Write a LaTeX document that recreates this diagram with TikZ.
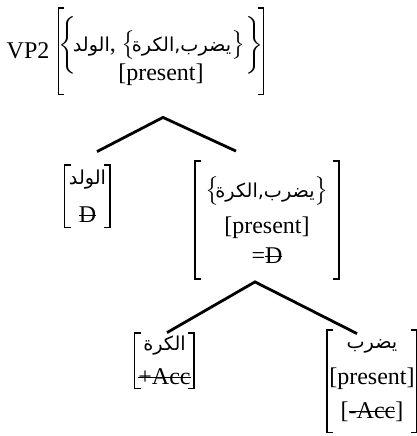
\documentclass[tikz,border=0pt]{standalone}
\usepackage{amsmath}
\usepackage{fontspec}
\setmainfont{Liberation Serif}
\newfontfamily\arabicfont[Script=Arabic,Scale=0.8]{DejaVu Sans}
\TeXXeTstate=1
\newcommand{\arb}[1]{{\arabicfont\beginR #1\endR}}
\usetikzlibrary{positioning,calc}

% struck-out feature
\newsavebox{\strkbox}
\newcommand{\strk}[1]{\sbox{\strkbox}{#1}\rlap{\raisebox{0.27em}{\rule{\wd\strkbox}{0.5pt}}}\usebox{\strkbox}}

% square brackets round a feature matrix
\newcommand{\avmbrackets}[1]{%
  \draw[brk] ([xshift=3pt]#1.north west) -- (#1.north west) -- (#1.south west) -- ([xshift=3pt]#1.south west);
  \draw[brk] ([xshift=-3pt]#1.north east) -- (#1.north east) -- (#1.south east) -- ([xshift=-3pt]#1.south east);}

\begin{document}
\begin{tikzpicture}[
  x=0.5pt, y=-0.5pt,
  every node/.style={font=\fontsize{12}{15}\selectfont},
  avm/.style={rectangle, inner sep=0pt, align=center},
  brk/.style={line width=0.9pt},
  branch/.style={line width=1.4pt}
]
\useasboundingbox (0,0) rectangle (417,436);

\node[avm, inner ysep=1pt, minimum width=99pt, minimum height=43pt] (vp) at (161,51) {$\bigg\{\!$\arb{الولد}, $\big\{\!$\arb{يضرب,الكرة}$\big\}\bigg\}$\\[-6pt] {[present]}};
\node[left=1pt of vp] (vplab) {VP2};

\node[avm, minimum width=22.5pt, minimum height=31pt] (ld) at (87.5,196) {\arb{الولد}\\[4pt] \strk{D}};
\node[avm, minimum width=71.5pt, minimum height=58.5pt] (md) at (267,220) {$\big\{\!$\arb{يضرب,الكرة}$\big\}$\\[3pt] {[present]}\\ =\strk{D}};

\node[avm, minimum width=29.5pt, minimum height=27.5pt] (bl) at (164.5,360.5) {\arb{الكرة}\\[2pt] \strk{+Acc}};
\node[avm, minimum width=44.5pt, minimum height=51pt] (br) at (372,381) {\arb{يضرب}\\[3pt] {[present]}\\[2pt] {[\strk{-Acc}]}};

\avmbrackets{vp}
\avmbrackets{ld}
\avmbrackets{md}
\avmbrackets{bl}
\avmbrackets{br}

% branches
\coordinate (t1) at ($(vp.south)+(2,23)$);
\coordinate (t1l) at ($(ld.north)+(9.5,-13)$);
\coordinate (t1r) at ($(md.north)+(-31,-10)$);
\draw[branch] (t1l) -- (t1) -- (t1r);

\coordinate (t2) at ($(md.south)+(-12,3)$);
\coordinate (t2l) at ($(bl.north)+(2.5,0)$);
\coordinate (t2r) at ($(br.north)+(-15,4)$);
\draw[branch] (t2l) -- (t2) -- (t2r);
\end{tikzpicture}
\end{document}
